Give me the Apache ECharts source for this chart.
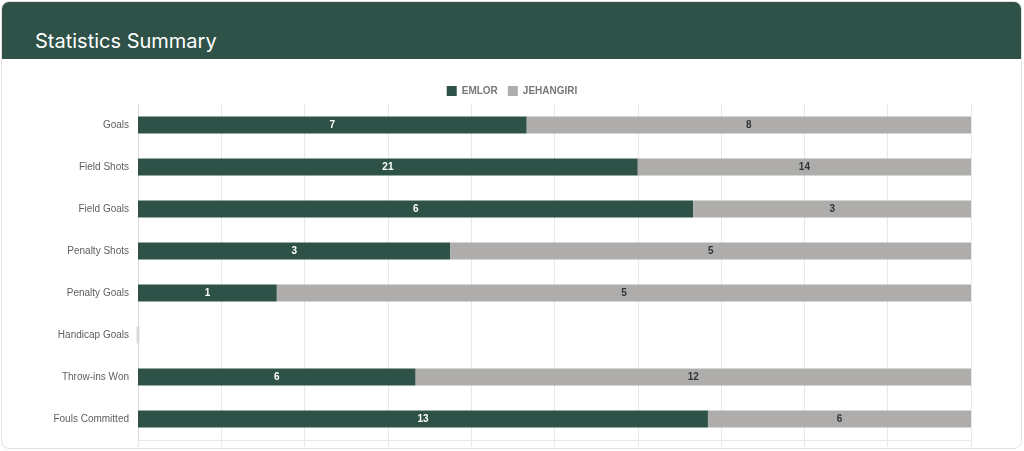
<!DOCTYPE html>
<html>
<head>
<meta charset="utf-8">
<script src="https://cdn.jsdelivr.net/npm/echarts@6/dist/echarts.min.js"></script>
<style>
  html, body { margin: 0; padding: 0; background: #fff; }
  body { width: 1024px; height: 451px; position: relative; overflow: hidden; }
  .card {
    position: absolute; left: 1px; top: 1px; width: 1019px; height: 446px;
    border: 1px solid #e2e2e2; border-radius: 8px; overflow: hidden; background: #fff;
  }
  .card-head {
    height: 57px; background: #2e5247; color: #fff;
    font-family: Inter, "Noto Sans", sans-serif; font-size: 20px;
    line-height: 24px; padding: 27px 0 0 33px; box-sizing: border-box;
  }
  #chart { position: absolute; left: 0; top: 58px; width: 1024px; height: 393px; }
</style>
</head>
<body>
<div class="card"><div class="card-head">Statistics Summary</div></div>
<div id="chart"></div>
<script>
var categories = ['Goals', 'Field Shots', 'Field Goals', 'Penalty Shots', 'Penalty Goals', 'Handicap Goals', 'Throw-ins Won', 'Fouls Committed'];
var emlor = [7, 21, 6, 3, 1, 0, 6, 13];
var jehangiri = [8, 14, 3, 5, 5, 0, 12, 6];

// each row is shown as a share of its total (100% stacked)
function share(a, b) {
  return a.map(function (v, i) {
    var t = a[i] + b[i];
    return t ? v / t * 100 : 0;
  });
}
var emlorPct = share(emlor, jehangiri);
var jehangiriPct = share(jehangiri, emlor);

var green = '#2e5247';
var grey = '#aeadab';
var lineColor = '#e8e8e8';
var font = '"Liberation Sans", Arial, sans-serif';

var myChart = echarts.init(document.getElementById('chart'));
myChart.setOption({
  animation: false,
  legend: {
    top: 23,
    left: 'center',
    itemWidth: 10,
    itemHeight: 10,
    itemGap: 10,
    icon: 'rect',
    textStyle: { color: '#777', fontSize: 10, fontWeight: 'bold', fontFamily: font },
    data: ['EMLOR', 'JEHANGIRI']
  },
  grid: { left: 138, right: 53, top: 46, bottom: 11 },
  xAxis: {
    type: 'value',
    min: 0,
    max: 100,
    interval: 10,
    axisLabel: { show: false },
    axisLine: { show: true, lineStyle: { color: lineColor } },
    axisTick: { show: true, length: 7, lineStyle: { color: lineColor } },
    splitLine: { show: true, lineStyle: { color: lineColor } }
  },
  yAxis: {
    type: 'category',
    inverse: true,
    data: categories,
    axisLine: { show: true, lineStyle: { color: '#dcdcdc' } },
    axisTick: { show: false },
    axisLabel: { color: '#5e5e5e', fontSize: 10, fontWeight: 'normal', fontFamily: font, margin: 9 }
  },
  series: [
    {
      name: 'EMLOR',
      type: 'bar',
      stack: 'all',
      barWidth: 17,
      itemStyle: { color: green },
      label: {
        show: true,
        position: 'inside',
        color: '#fff',
        fontSize: 10,
        fontWeight: 'bold',
        fontFamily: font,
        formatter: function (p) { return emlor[p.dataIndex] ? emlor[p.dataIndex] : ''; }
      },
      data: emlorPct.map(function (v, i) {
        return emlor[i] + jehangiri[i] ? v : { value: 0, itemStyle: { borderColor: '#dadada', borderWidth: 3 } };
      })
    },
    {
      name: 'JEHANGIRI',
      type: 'bar',
      stack: 'all',
      barWidth: 17,
      itemStyle: { color: grey },
      label: {
        show: true,
        position: 'inside',
        color: '#333',
        fontSize: 10,
        fontWeight: 'bold',
        fontFamily: font,
        formatter: function (p) { return jehangiri[p.dataIndex] ? jehangiri[p.dataIndex] : ''; }
      },
      data: jehangiriPct
    }
  ]
});
</script>
</body>
</html>
